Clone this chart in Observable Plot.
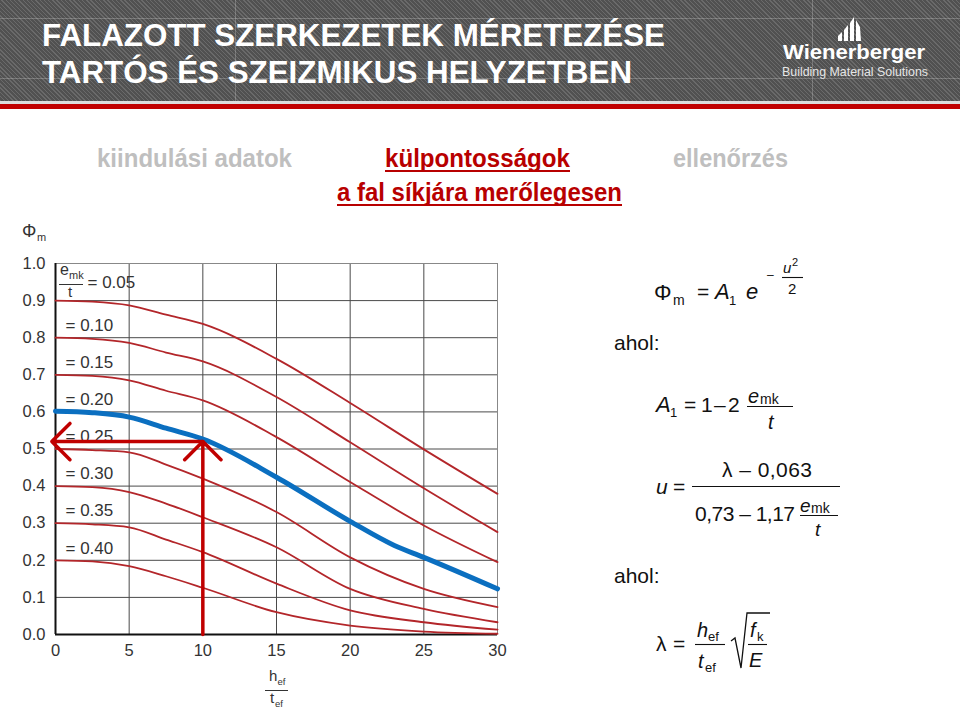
<!DOCTYPE html>
<html>
<head>
<meta charset="utf-8">
<script src="https://cdn.jsdelivr.net/npm/d3@7"></script>
<script src="https://cdn.jsdelivr.net/npm/@observablehq/plot@0.6"></script>
<style>
  html, body { margin: 0; padding: 0; background: #fff; }
  #page { position: relative; width: 960px; height: 711px; overflow: hidden; background: #fff;
          font-family: "Liberation Sans", Arial, Helvetica, sans-serif; }
  #header { position: absolute; left: 0; top: 0; width: 960px; height: 101px;
    background: repeating-linear-gradient(45deg, #6a6a6a 0px, #6a6a6a 1px, #515151 1px, #515151 3px); }
  #strip { position: absolute; left: 0; top: 101px; width: 960px; height: 3px; background: #dcdcdc; }
  #redband { position: absolute; left: 0; top: 104px; width: 960px; height: 5px; background: #c00000; }
  #chart { position: absolute; left: 0; top: 210px; }
  #overlay { position: absolute; left: 0; top: 0; pointer-events: none; }
</style>
</head>
<body>
<div id="page">
  <div id="header"></div>
  <div id="strip"></div>
  <div id="redband"></div>
  <div id="chart"></div>
  <svg id="overlay" width="960" height="711" xmlns="http://www.w3.org/2000/svg"
       font-family="'Liberation Sans', Arial, Helvetica, sans-serif">
    <!-- faint blueprint lines in header -->
    <g stroke="rgba(255,255,255,0.22)" stroke-width="1">
      <line x1="0" y1="18.5" x2="960" y2="18.5"/>
      <line x1="0" y1="78.5" x2="960" y2="78.5"/>
      <line x1="235.5" y1="0" x2="235.5" y2="101"/>
      <line x1="812.5" y1="0" x2="812.5" y2="101"/>
    </g>
    <!-- title -->
    <g fill="#fff" font-weight="bold" font-size="32">
      <text x="42" y="46" textLength="623" lengthAdjust="spacingAndGlyphs">FALAZOTT SZERKEZETEK MÉRETEZÉSE</text>
      <text x="42" y="83" textLength="590" lengthAdjust="spacingAndGlyphs">TARTÓS ÉS SZEIZMIKUS HELYZETBEN</text>
    </g>
    <!-- logo -->
    <g fill="#fff">
      <polygon points="838,41 842,41 842,32 838,36"/>
      <polygon points="844,41 848,41 848,25 844,30"/>
      <polygon points="850,41 854,41 854,17 850,23"/>
      <polygon points="856,41 861,41 860,27 856,20"/>
      <text x="783" y="59" font-size="21" font-weight="bold" textLength="142" lengthAdjust="spacingAndGlyphs">Wienerberger</text>
      <text x="782" y="76" font-size="13" fill="#e6e6e6" textLength="146" lengthAdjust="spacingAndGlyphs">Building Material Solutions</text>
    </g>
    <!-- navigation -->
    <g font-weight="bold" font-size="25">
      <text x="97" y="167" fill="#bfbfbf" textLength="195" lengthAdjust="spacingAndGlyphs">kiindulási adatok</text>
      <text x="385" y="167" fill="#b80000" textLength="185" lengthAdjust="spacingAndGlyphs">külpontosságok</text>
      <text x="673" y="167" fill="#bfbfbf" textLength="115" lengthAdjust="spacingAndGlyphs">ellenőrzés</text>
      <text x="337" y="201" fill="#b80000" textLength="285" lengthAdjust="spacingAndGlyphs">a fal síkjára merőlegesen</text>
    </g>
    <g fill="#b80000">
      <rect x="385" y="170" width="185" height="2"/>
      <rect x="337" y="204" width="285" height="2"/>
    </g>
    <!-- axis math labels -->
    <g fill="#333">
      <text x="22" y="237" font-size="18">Φ</text>
      <text x="37" y="241" font-size="11">m</text>
      <text x="269" y="681" font-size="15">h</text>
      <text x="277.5" y="685" font-size="9.5">ef</text>
      <text x="270" y="703" font-size="15">t</text>
      <text x="275" y="707" font-size="9.5">ef</text>
      <text x="60" y="275" font-size="16">e</text>
      <text x="69" y="279" font-size="11">mk</text>
      <text x="68" y="297" font-size="15">t</text>
    </g>
    <g stroke="#333" stroke-width="1">
      <line x1="265" y1="690.5" x2="288" y2="690.5"/>
      <line x1="59" y1="284.5" x2="83" y2="284.5"/>
    </g>
    <!-- formulas -->
    <g fill="#111" font-size="21">
      <text x="654" y="300" font-size="22">Φ</text>
      <text x="673" y="305" font-size="14">m</text>
      <text x="697" y="299">=</text>
      <text x="715" y="299" font-style="italic" font-size="22">A</text>
      <text x="729" y="305" font-size="13">1</text>
      <text x="746" y="299" font-style="italic" font-size="22">e</text>
      <text x="767" y="279" font-size="12">–</text>
      <text x="783" y="273" font-size="15" font-style="italic">u</text>
      <text x="792" y="266" font-size="11">2</text>
      <text x="788" y="294" font-size="15">2</text>

      <text x="614" y="350">ahol:</text>

      <text x="656" y="412" font-style="italic" font-size="22">A</text>
      <text x="670" y="417" font-size="13">1</text>
      <text x="684" y="412">=</text>
      <text x="701" y="412">1</text>
      <text x="714" y="412">–</text>
      <text x="728" y="412">2</text>
      <text x="748" y="403" font-style="italic" font-size="20">e</text>
      <text x="760" y="404" font-size="14">mk</text>
      <text x="768" y="429" font-style="italic" font-size="20">t</text>

      <text x="656" y="494" font-style="italic">u</text>
      <text x="673" y="494">=</text>
      <text x="722" y="477" textLength="90" lengthAdjust="spacing">λ – 0,063</text>
      <text x="695" y="521" textLength="100" lengthAdjust="spacing">0,73 – 1,17</text>
      <text x="800" y="512" font-style="italic" font-size="19">e</text>
      <text x="811" y="513" font-size="14">mk</text>
      <text x="815" y="536" font-style="italic" font-size="19">t</text>

      <text x="614" y="583">ahol:</text>

      <text x="656" y="651">λ</text>
      <text x="673" y="651">=</text>
      <text x="697" y="637" font-style="italic" font-size="20">h</text>
      <text x="708" y="641" font-size="13">ef</text>
      <text x="698" y="668" font-style="italic" font-size="20">t</text>
      <text x="705" y="672" font-size="13">ef</text>
      <text x="750" y="637" font-style="italic" font-size="20">f</text>
      <text x="757" y="641" font-size="13">k</text>
      <text x="749" y="667" font-style="italic" font-size="20">E</text>
    </g>
    <g stroke="#111" stroke-width="1.1" fill="none">
      <line x1="782" y1="277.5" x2="803" y2="277.5"/>
      <line x1="747" y1="406.5" x2="793" y2="406.5"/>
      <line x1="692" y1="486.5" x2="840" y2="486.5"/>
      <line x1="800" y1="515.5" x2="838" y2="515.5"/>
      <line x1="695" y1="644.5" x2="725" y2="644.5"/>
      <line x1="748" y1="644.5" x2="767" y2="644.5"/>
      <path d="M731,641 L735,638 L741,668 L747,613 L770,613" stroke-width="1.3"/>
    </g>
  </svg>
</div>
<script>
// ---- data ----
const xTicks = [0, 5, 10, 15, 20, 25, 30];
const yTicks = [0, 0.1, 0.2, 0.3, 0.4, 0.5, 0.6, 0.7, 0.8, 0.9, 1.0];
const slenderness = [0, 2.5, 5, 7.5, 10, 15, 20, 25, 30];   // h_ef / t_ef

const eccentricities = [0.05, 0.10, 0.15, 0.25, 0.30, 0.35, 0.40]; // e_mk / t (red curves)
const phi005 = [0.900, 0.897, 0.887, 0.862, 0.837, 0.743, 0.624, 0.499, 0.379];
const phi010 = [0.800, 0.797, 0.786, 0.760, 0.736, 0.640, 0.518, 0.394, 0.276];
const phi015 = [0.700, 0.697, 0.685, 0.657, 0.631, 0.532, 0.411, 0.294, 0.195];
const phi025 = [0.500, 0.497, 0.491, 0.458, 0.420, 0.330, 0.208, 0.123, 0.074];
const phi030 = [0.400, 0.397, 0.384, 0.353, 0.316, 0.235, 0.123, 0.069, 0.033];
const phi035 = [0.300, 0.297, 0.289, 0.256, 0.222, 0.137, 0.065, 0.033, 0.013];
const phi040 = [0.200, 0.197, 0.184, 0.157, 0.126, 0.060, 0.024, 0.008, 0.002];
const redValues = [phi005, phi010, phi015, phi025, phi030, phi035, phi040];

// highlighted curve e_mk/t = 0.20
const blueX = [0, 2.5, 5, 7.5, 10, 15, 20, 23, 25, 30];
const blueY = [0.602, 0.598, 0.586, 0.556, 0.527, 0.424, 0.305, 0.240, 0.208, 0.123];

const curveLabels = ["= 0.05", "= 0.10", "= 0.15", "= 0.20", "= 0.25", "= 0.30", "= 0.35", "= 0.40"];
const labelRatios = [0.05, 0.10, 0.15, 0.20, 0.25, 0.30, 0.35, 0.40];

// reading example: h_ef/t_ef = 10 -> Φm ≈ 0.52
const readSlenderness = 10;
const readPhi = 0.52;
const arrowTipX = -0.25;

// ---- build tables ----
const redData = [];
eccentricities.forEach((e, i) => {
  slenderness.forEach((x, j) => redData.push({e, x, y: redValues[i][j]}));
});
const blueData = blueX.map((x, i) => ({x, y: blueY[i]}));
const labelData = labelRatios.map((e, i) => ({text: curveLabels[i], y: 1 - 2 * e + 0.033, first: i === 0}));
const arrows = [
  {x1: readSlenderness, y1: 0, x2: readSlenderness, y2: readPhi},
  {x1: readSlenderness, y1: readPhi, x2: arrowTipX, y2: readPhi}
];

const chart = Plot.plot({
  width: 520,
  height: 500,
  marginLeft: 55,
  marginRight: 23,
  marginTop: 53,
  marginBottom: 76,
  x: {domain: [0, 30]},
  y: {domain: [0, 1]},
  style: {fontFamily: "'Liberation Sans', Arial, Helvetica, sans-serif", fontSize: "16px", color: "#333", background: "transparent", overflow: "visible"},
  marks: [
    Plot.gridX(xTicks.filter(d => d > 0 && d < 30), {stroke: "#4a4a4a", strokeOpacity: 1, strokeWidth: 1}),
    Plot.gridY(yTicks.filter(d => d > 0 && d < 1), {stroke: "#4a4a4a", strokeOpacity: 1, strokeWidth: 1}),
    Plot.ruleX([30], {stroke: "#888", strokeWidth: 1}),
    Plot.ruleY([1], {stroke: "#888", strokeWidth: 1}),
    Plot.axisX({ticks: xTicks, tickSize: 0, tickPadding: 10, label: null, fill: "#333", fontSize: 16.5}),
    Plot.axisY({ticks: yTicks, tickSize: 0, tickPadding: 10, label: null, tickFormat: d => d.toFixed(1), fill: "#333", fontSize: 16.5}),
    Plot.ruleX([0], {stroke: "#111", strokeWidth: 2}),
    Plot.ruleY([0], {stroke: "#111", strokeWidth: 2}),
    Plot.text(labelData.filter(d => !d.first), {x: 0, y: "y", text: "text", textAnchor: "start", dx: 10, fontSize: 17, fill: "#333"}),
    Plot.text(labelData.filter(d => d.first), {x: 0, y: d => d.y + 0.017, text: "text", textAnchor: "start", dx: 32, fontSize: 17, fill: "#333"}),
    Plot.line(redData, {x: "x", y: "y", z: "e", stroke: "#b3262a", strokeWidth: 1.8, curve: "monotone-x"}),
    Plot.line(blueData, {x: "x", y: "y", stroke: "#0b6fc0", strokeWidth: 5, curve: "monotone-x"}),
    Plot.arrow(arrows, {x1: "x1", y1: "y1", x2: "x2", y2: "y2", stroke: "#c00000", strokeWidth: 3.5, headLength: 11, headAngle: 90})
  ]
});
document.getElementById("chart").appendChild(chart);
</script>
</body>
</html>
